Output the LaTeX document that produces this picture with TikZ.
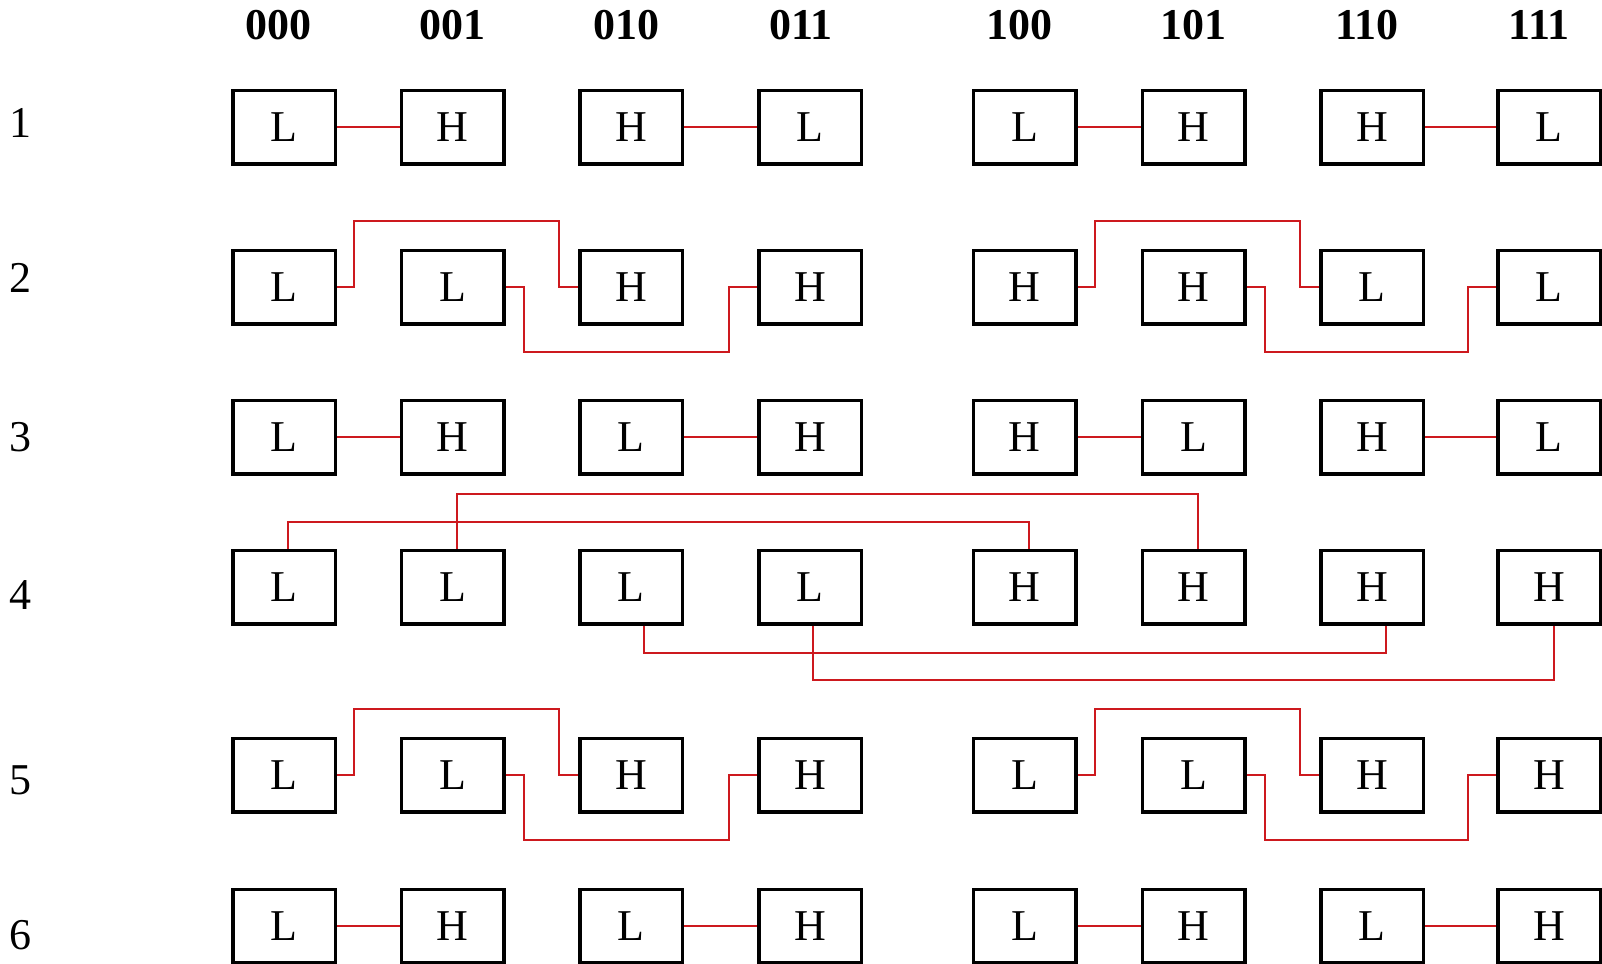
\documentclass[tikz,border=0pt]{standalone}
\usepackage{fontspec}
\setmainfont{Liberation Serif}
\usetikzlibrary{calc}
\definecolor{wirered}{RGB}{205,25,30}

\begin{document}
\begin{tikzpicture}[
        x=0.5pt, y=-0.5pt,
        box/.style={rectangle, draw, line width=1.75pt, minimum width=51.25pt, minimum height=36.75pt, inner sep=0pt, font=\fontsize{22}{26}\selectfont},
        head/.style={font=\fontsize{22}{26}\selectfont\bfseries},
        rowlab/.style={font=\fontsize{22}{26}\selectfont},
        wire/.style={draw=wirered, line width=1pt}
    ]
        \useasboundingbox (0,0) rectangle (1602,964);

        % Columns and headers
        \foreach \x [count=\c] in {284,452.5,631,810,1024.5,1193.5,1372,1549}
            \coordinate (col\c) at (\x,0);
        \foreach \x/\t [count=\c] in {278/000,452/001,626/010,801/011,1019/100,1193/101,1367/110,1539/111}
            \node[head] (h\c) at (\x,25) {\t};

        % Row numbers
        \foreach \y/\n in {123/1,278/2,437/3,595/4,780/5,935/6}
            \node[rowlab] (n\n) at (21,\y) {\n};

        % Boxes
        \foreach \l [count=\c] in {L,H,H,L,L,H,H,L}
            \node[box] (r1c\c) at (col\c |- 0,127) {\l};
        \foreach \l [count=\c] in {L,L,H,H,H,H,L,L}
            \node[box] (r2c\c) at (col\c |- 0,287) {\l};
        \foreach \l [count=\c] in {L,H,L,H,H,L,H,L}
            \node[box] (r3c\c) at (col\c |- 0,437) {\l};
        \foreach \l [count=\c] in {L,L,L,L,H,H,H,H}
            \node[box] (r4c\c) at (col\c |- 0,587) {\l};
        \foreach \l [count=\c] in {L,L,H,H,L,L,H,H}
            \node[box] (r5c\c) at (col\c |- 0,775) {\l};
        \foreach \l [count=\c] in {L,H,L,H,L,H,L,H}
            \node[box] (r6c\c) at (col\c |- 0,926) {\l};

        % Wires: neighbours
        \foreach \row in {1,3,6}
            \foreach \a/\b in {1/2,3/4,5/6,7/8}
                \draw[wire] (r\row c\a) -- (r\row c\b);

        % Wires: distance 2
        \foreach \row in {2,5} {
            \foreach \a/\b in {1/3,5/7}
                \draw[wire] (r\row c\a.east) -- ++(17,0) -- ++(0,-66) -| ($(r\row c\b.west)+(-19,0)$) -- (r\row c\b.west);
            \foreach \a/\b in {2/4,6/8}
                \draw[wire] (r\row c\a.east) -- ++(18,0) -- ++(0,65) -| ($(r\row c\b.west)+(-28,0)$) -- (r\row c\b.west);
        }

        % Wires: distance 4
        \draw[wire] ($(r4c1.north)+(4,0)$) -- ++(0,-27) -| ($(r4c5.north)+(4,0)$);
        \draw[wire] ($(r4c2.north)+(4.5,0)$) -- ++(0,-55) -| ($(r4c6.north)+(4.5,0)$);
        \draw[wire] ($(r4c3.south)+(13,0)$) -- ++(0,27) -| ($(r4c7.south)+(14,0)$);
        \draw[wire] ($(r4c4.south)+(3,0)$) -- ++(0,54) -| ($(r4c8.south)+(5,0)$);
    \end{tikzpicture}
\end{document}
